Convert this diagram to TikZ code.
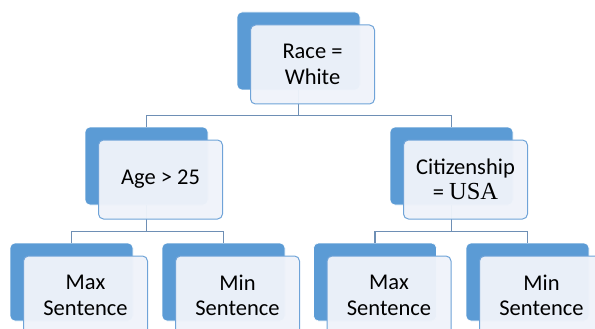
\documentclass[tikz,border=0pt]{standalone}
\usepackage{fontspec}
\setmainfont{Carlito}
\newfontfamily\timesfont{Liberation Serif}
\definecolor{backblue}{HTML}{5B9BD5}
\definecolor{frontfill}{HTML}{EFF3FA}
\definecolor{frontline}{HTML}{6FA3D8}
\definecolor{connline}{HTML}{6E8FB5}
\begin{document}
\begin{tikzpicture}[x=1pt,y=-1pt,
  backbox/.style={draw=white, line width=0.6pt, fill=backblue, rounded corners=5pt,
    minimum width=123pt, minimum height=78pt, inner sep=0pt},
  frontbox/.style={draw=frontline, line width=1pt, fill=frontfill, fill opacity=0.96, text opacity=1,
    rounded corners=5pt, minimum width=124pt, minimum height=79pt, inner sep=0pt,
    align=center, font=\fontsize{22.5}{25.5}\selectfont},
  conn/.style={draw=connline, line width=1.2pt}]
\useasboundingbox (0,0) rectangle (595,329);
\begin{scope}
\clip (0,0) rectangle (595,329);
% back boxes
\node[backbox] (tb) at (298.5,51) {};
\node[backbox] (lb) at (146.5,166) {};
\node[backbox] (rb) at (451.5,166) {};
\node[backbox] (llb) at (71.5,282) {};
\node[backbox] (lrb) at (223.5,282) {};
\node[backbox] (rlb) at (375,282) {};
\node[backbox] (rrb) at (527.5,282) {};
% connectors
\draw[conn] (tb.south) -- ++(0,25) -| (lb.north);
\draw[conn] (tb.south) -- ++(0,25) -| (rb.north);
\draw[conn] (lb.south) -- ++(0,26.5) -| (llb.north);
\draw[conn] (lb.south) -- ++(0,26.5) -| (lrb.north);
\draw[conn] (rb.south) -- ++(0,26.5) -| (rlb.north);
\draw[conn] (rb.south) -- ++(0,26.5) -| (rrb.north);
% front boxes
\node[frontbox] (t) at (312.5,64.5) {Race =\\White};
\node[frontbox] (l) at (160.5,179.5) {Age > 25};
\node[frontbox] (r) at (465.5,179.5) {Citizenship\\= {\timesfont\fontsize{24.5}{25.5}\selectfont USA}};
\node[frontbox] (ll) at (85.5,295.5) {Max\\Sentence};
\node[frontbox] (lr) at (237.5,295.5) {Min\\Sentence};
\node[frontbox] (rl) at (389,295.5) {Max\\Sentence};
\node[frontbox] (rr) at (541.5,295.5) {Min\\Sentence};
\end{scope}
\end{tikzpicture}
\end{document}
